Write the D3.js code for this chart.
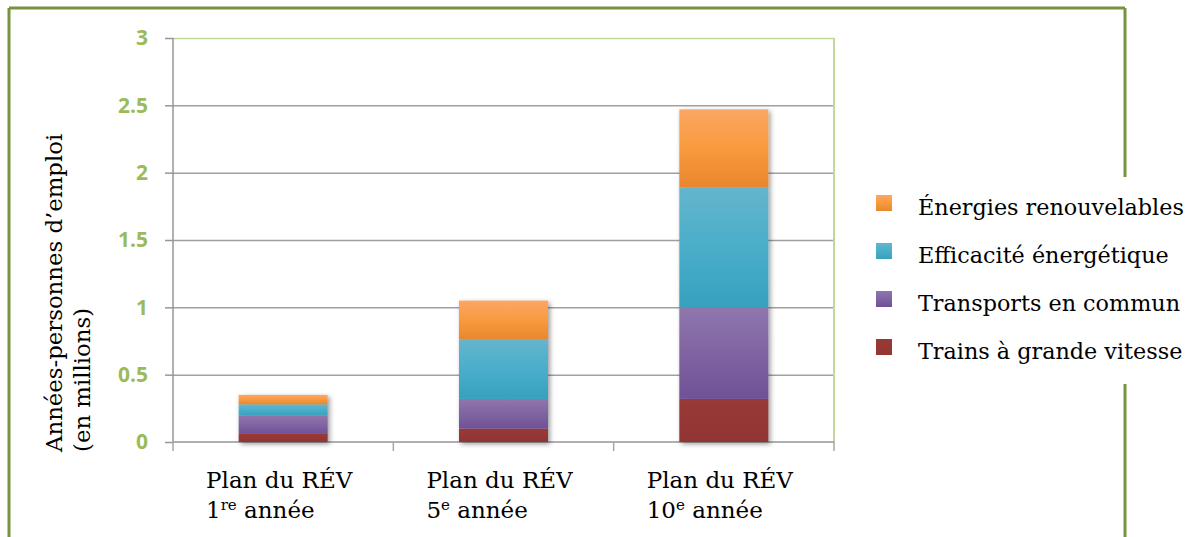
<!DOCTYPE html>
<html>
<head>
<meta charset="utf-8">
<script src="https://cdn.jsdelivr.net/npm/d3@7"></script>
<style>
  body { margin: 0; background: #ffffff; }
  svg { display: block; }
</style>
</head>
<body>
<div id="plot"></div>
<script>
// data
var categories = ["1re année", "5e année", "10e année"];
var catTitle = "Plan du RÉV";
var catNumbers = ["1", "5", "10"];
var catSups = ["re", "e", "e"];

var seriesNames = ["Trains à grande vitesse", "Transports en commun", "Efficacité énergétique", "Énergies renouvelables"];
var trains = [0.06, 0.10, 0.32];
var transports = [0.135, 0.22, 0.68];
var efficacite = [0.085, 0.44, 0.89];
var renouvelables = [0.07, 0.29, 0.58];

var yTicks = [0, 0.5, 1, 1.5, 2, 2.5, 3];

// top / middle / bottom colours of each series gradient
var seriesColors = [
    ["#973a37", "#953735", "#923533"],
    ["#8f76ad", "#8064a2", "#6f5196"],
    ["#64b5cc", "#4aaeca", "#36a1be"],
    ["#fba664", "#f99a3e", "#e8862d"]
];

var W = 1191, H = 537;
var margin = {top: 38, left: 173},
    width = 661,
    height = 404;
var serif = "'DejaVu Serif', serif";

var svg = d3.select("#plot")
    .append("svg")
    .attr("width", W)
    .attr("height", H);

var defs = svg.append("defs");
seriesColors.forEach(function(c, i) {
    var g = defs.append("linearGradient")
        .attr("id", "grad" + i)
        .attr("x1", 0).attr("y1", 0).attr("x2", 0).attr("y2", 1);
    g.append("stop").attr("offset", "0%").attr("stop-color", c[0]);
    g.append("stop").attr("offset", "50%").attr("stop-color", c[1]);
    g.append("stop").attr("offset", "100%").attr("stop-color", c[2]);
});
var shadow = defs.append("filter").attr("id", "shadow")
    .attr("x", "-20%").attr("y", "-20%").attr("width", "140%").attr("height", "140%");
shadow.append("feDropShadow")
    .attr("dx", 2).attr("dy", 2).attr("stdDeviation", 2.4)
    .attr("flood-color", "#000").attr("flood-opacity", 0.4);

// outer frame (right side broken by the legend)
var frame = "#77933c";
svg.append("line").attr("x1", 9).attr("y1", 8).attr("x2", 1125).attr("y2", 8)
    .attr("stroke", frame).attr("stroke-width", 3);
svg.append("line").attr("x1", 9).attr("y1", 8).attr("x2", 9).attr("y2", H)
    .attr("stroke", frame).attr("stroke-width", 3);
svg.append("line").attr("x1", 1125).attr("y1", 8).attr("x2", 1125).attr("y2", 177)
    .attr("stroke", frame).attr("stroke-width", 3);
svg.append("line").attr("x1", 1125).attr("y1", 384).attr("x2", 1125).attr("y2", H)
    .attr("stroke", frame).attr("stroke-width", 3);

var g = svg.append("g")
    .attr("transform", "translate(" + margin.left + "," + margin.top + ")");

var x = d3.scaleBand()
    .domain(categories)
    .range([0, width])
    .paddingInner(0.596)
    .paddingOuter(0.298);

var y = d3.scaleLinear()
    .domain([0, 3])
    .range([height, 0]);

// gridlines
g.append("g")
    .attr("class", "grid")
    .call(d3.axisLeft(y).tickValues(yTicks.filter(function(d) { return d > 0; }))
        .tickSize(-width).tickFormat(""))
    .call(function(s) {
        s.select(".domain").remove();
        s.selectAll(".tick line")
            .attr("stroke", function(d) { return d === 3 ? "#c3d69b" : "#a0a0a0"; })
            .attr("stroke-width", 1.5);
    });

// plot area right border
g.append("line")
    .attr("x1", width).attr("x2", width)
    .attr("y1", y(3)).attr("y2", y(0))
    .attr("stroke", "#c3d69b").attr("stroke-width", 2);

// Y axis
g.append("g")
    .call(d3.axisLeft(y).tickValues(yTicks).tickSize(8).tickPadding(17)
        .tickFormat(function(d) { return String(d); }))
    .call(function(s) {
        s.select(".domain").attr("stroke", "#969696").attr("stroke-width", 1.5)
            .attr("d", "M0," + y(3) + "V" + y(0));
        s.selectAll(".tick line").attr("stroke", "#969696").attr("stroke-width", 1.5);
        s.selectAll(".tick text")
            .attr("fill", "#9bbb59")
            .style("font-family", "'Open Sans', Lato, sans-serif")
            .style("font-weight", "bold")
            .style("font-size", "21px");
    });

// X axis with tick marks at the category boundaries
var half = (x.step() - x.bandwidth()) / 2;
var bounds = categories.map(function(c) { return x(c) - half; });
bounds.push(width);
g.append("line")
    .attr("x1", 0).attr("x2", width)
    .attr("y1", height).attr("y2", height)
    .attr("stroke", "#969696").attr("stroke-width", 1.5);
g.selectAll(".xtick")
    .data(bounds)
    .enter()
    .append("line")
    .attr("x1", function(d) { return d; })
    .attr("x2", function(d) { return d; })
    .attr("y1", height).attr("y2", height + 9)
    .attr("stroke", "#a6a6a6").attr("stroke-width", 1.5);

// stacked bars
var table = categories.map(function(c, i) {
    return {cat: c, s0: trains[i], s1: transports[i], s2: efficacite[i], s3: renouvelables[i]};
});
var stacked = d3.stack().keys(["s0", "s1", "s2", "s3"])(table);

var bars = g.append("g").attr("filter", "url(#shadow)");
bars.selectAll("g.layer")
    .data(stacked)
    .enter()
    .append("g")
    .attr("class", "layer")
    .attr("fill", function(d, i) { return "url(#grad" + i + ")"; })
    .selectAll("rect")
    .data(function(d) { return d; })
    .enter()
    .append("rect")
    .attr("x", function(d) { return x(d.data.cat); })
    .attr("width", x.bandwidth())
    .attr("y", function(d) { return y(d[1]); })
    .attr("height", function(d) { return y(d[0]) - y(d[1]); });

// category labels: two left-aligned lines, block centred under the band
var catLabels = g.selectAll(".catlabel")
    .data(categories)
    .enter()
    .append("text")
    .attr("class", "catlabel")
    .style("font-family", serif)
    .style("font-size", "23px")
    .attr("fill", "#000");
catLabels.append("tspan").attr("class", "l1").attr("x", 0).attr("y", 0).text(catTitle);
catLabels.append("tspan").attr("x", 0).attr("y", 30)
    .text(function(d, i) { return catNumbers[i]; });
catLabels.append("tspan")
    .attr("dy", -8)
    .style("font-size", "15px")
    .text(function(d, i) { return catSups[i]; });
catLabels.append("tspan")
    .attr("dy", 8)
    .text(" année");
catLabels.attr("transform", function(d) {
    var w = d3.select(this).select(".l1").node().getComputedTextLength();
    return "translate(" + (x(d) + x.bandwidth() / 2 - w / 2 - 4) + "," + (height + 46) + ")";
});

// Y axis title, both lines start at the same point
var yTitle = svg.append("text")
    .attr("transform", "translate(62,452) rotate(-90)")
    .attr("text-anchor", "start")
    .style("font-family", serif)
    .style("font-size", "22.8px")
    .attr("fill", "#000");
yTitle.append("tspan").attr("x", 0).attr("y", 0).text("Années-personnes d’emploi");
yTitle.append("tspan").attr("x", 0).attr("y", 28).text("(en millions)");

// legend, top entry is the top of the stack
var legendOrder = [3, 2, 1, 0];
var legend = svg.append("g")
    .selectAll("g")
    .data(legendOrder)
    .enter()
    .append("g")
    .attr("transform", function(d, i) { return "translate(876," + (195 + i * 48) + ")"; });
legend.append("rect")
    .attr("width", 16).attr("height", 16)
    .attr("fill", function(d) { return "url(#grad" + d + ")"; });
legend.append("text")
    .attr("x", 42).attr("y", 20)
    .style("font-family", serif)
    .style("font-size", "22.3px")
    .attr("fill", "#000")
    .text(function(d) { return seriesNames[d]; });
</script>
</body>
</html>
